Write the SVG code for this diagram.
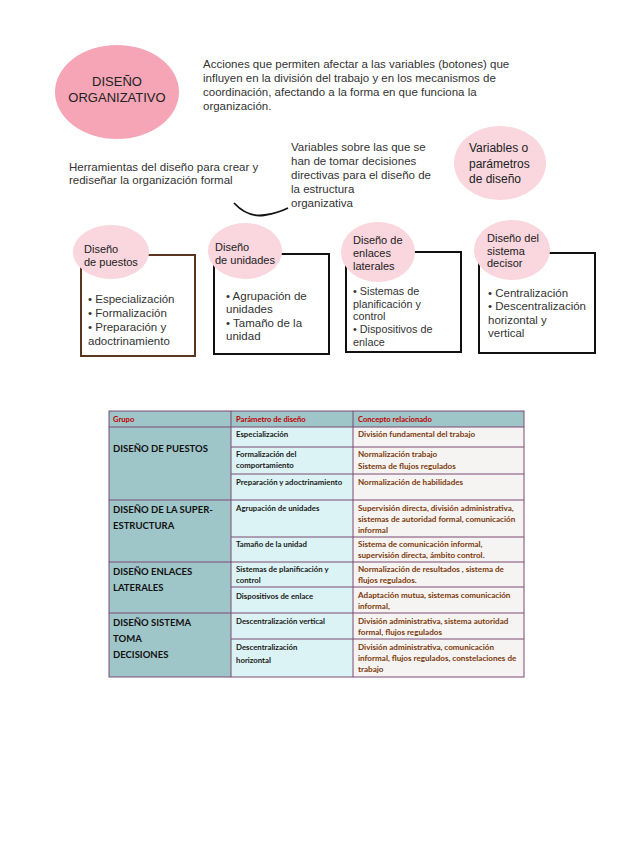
<svg xmlns="http://www.w3.org/2000/svg" width="636" height="848" viewBox="0 0 636 848">
<style>
.t{font-family:"Liberation Sans",Arial,sans-serif;font-size:11.5px;fill:#333}
.h{font-family:"Liberation Sans",Arial,sans-serif;font-size:11px;fill:#222}
.big{font-family:"Liberation Sans",Arial,sans-serif;font-size:13px;fill:#222}
.pl{fill:#FAD6DE}
.box{fill:#fff;stroke:#111;stroke-width:2}
.tb{font-family:Lato,"Liberation Sans",sans-serif;font-weight:bold;font-size:7.8px}
.c1{fill:#9EC5C8}
.c2{fill:#DBF3F4}
.c3{fill:#F6F3F3}
.g{font-family:Lato,"Liberation Sans",sans-serif;font-weight:bold;font-size:9.5px;fill:#111}
.p{fill:#1a1a1a}
.r{fill:#7B3A0A;font-size:8.1px}
.hd{fill:#C00000;font-size:7.6px}
.ln{stroke:#7C4A73;stroke-width:1;fill:none}
</style>
<rect width="636" height="848" fill="#fff"/>

<g id="diseno-organizativo">
<ellipse cx="117" cy="92" rx="62" ry="47" fill="#F5A5B6"/>
<text class="big" x="117" y="86" text-anchor="middle">DISEÑO</text>
<text class="big" x="117" y="102" text-anchor="middle">ORGANIZATIVO</text>
</g>

<g id="descripcion">
<text class="t" x="203" y="68">Acciones que permiten afectar a las variables (botones) que</text>
<text class="t" x="203" y="82">influyen en la división del trabajo y en los mecanismos de</text>
<text class="t" x="203" y="96">coordinación, afectando a la forma en que funciona la</text>
<text class="t" x="203" y="110">organización.</text>
</g>

<g id="herramientas">
<text class="t" x="69" y="171">Herramientas del diseño para crear y</text>
<text class="t" x="69" y="184">rediseñar la organización formal</text>
</g>

<g id="variables-sobre">
<text class="t" x="291" y="151">Variables sobre las que se</text>
<text class="t" x="291" y="165">han de tomar decisiones</text>
<text class="t" x="291" y="179">directivas para el diseño de</text>
<text class="t" x="291" y="193">la estructura</text>
<text class="t" x="291" y="207">organizativa</text>
</g>

<g id="connectors">
<path d="M234,203 Q248,218 265,215 Q278,213 288,208" fill="none" stroke="#111" stroke-width="1.8"/>
</g>

<g id="variables-parametros">
<ellipse cx="500" cy="163" rx="46" ry="37" class="pl"/>
<text class="big" x="469" y="152" style="font-size:12px">Variables o</text>
<text class="big" x="469" y="168" style="font-size:12px">parámetros</text>
<text class="big" x="469" y="183" style="font-size:12px">de diseño</text>
</g>

<g id="diseno-puestos">
<rect x="81" y="255" width="114" height="101" fill="#fff" stroke="#5A3620" stroke-width="2"/>
<ellipse cx="111" cy="252" rx="38" ry="27" class="pl"/>
<text class="h" x="84" y="253">Diseño</text>
<text class="h" x="84" y="266">de puestos</text>
<text class="t" x="88" y="303">• Especialización</text>
<text class="t" x="88" y="317">• Formalización</text>
<text class="t" x="88" y="331">• Preparación y</text>
<text class="t" x="88" y="345">adoctrinamiento</text>
</g>

<g id="diseno-unidades">
<rect x="214" y="254" width="115" height="100" class="box"/>
<ellipse cx="245" cy="251" rx="37" ry="28" class="pl"/>
<text class="h" x="215" y="251">Diseño</text>
<text class="h" x="215" y="264">de unidades</text>
<text class="t" x="226" y="300">• Agrupación de</text>
<text class="t" x="226" y="313">unidades</text>
<text class="t" x="226" y="327">• Tamaño de la</text>
<text class="t" x="226" y="340">unidad</text>
</g>

<g id="diseno-enlaces">
<rect x="346" y="252" width="115" height="100" class="box"/>
<ellipse cx="378" cy="252" rx="37" ry="30" class="pl"/>
<text class="h" x="353" y="244">Diseño de</text>
<text class="h" x="353" y="257">enlaces</text>
<text class="h" x="353" y="270">laterales</text>
<text class="t" x="353" y="295" style="font-size:10.8px">• Sistemas de</text>
<text class="t" x="353" y="308" style="font-size:10.8px">planificación y</text>
<text class="t" x="353" y="320" style="font-size:10.8px">control</text>
<text class="t" x="353" y="333" style="font-size:10.8px">• Dispositivos de</text>
<text class="t" x="353" y="346" style="font-size:10.8px">enlace</text>
</g>

<g id="diseno-sistema-decisor">
<rect x="479" y="253" width="116" height="100" class="box"/>
<ellipse cx="512" cy="250" rx="38" ry="30" class="pl"/>
<text class="h" x="487" y="242">Diseño del</text>
<text class="h" x="487" y="255">sistema</text>
<text class="h" x="487" y="267">decisor</text>
<text class="t" x="488" y="297">• Centralización</text>
<text class="t" x="488" y="310">• Descentralización</text>
<text class="t" x="488" y="324">horizontal y</text>
<text class="t" x="488" y="337">vertical</text>
</g>

<g id="tabla">
<rect x="109" y="411" width="122" height="16" class="c1"/>
<rect x="231" y="411" width="122" height="16" class="c1"/>
<rect x="353" y="411" width="171" height="16" class="c1"/>
<rect x="109" y="427" width="122" height="250" class="c1"/>
<rect x="231" y="427" width="122" height="250" class="c2"/>
<rect x="353" y="427" width="171" height="250" class="c3"/>
<rect x="109" y="411" width="415" height="266" class="ln"/>
<path class="ln" d="M231,411V677M353,411V677M109,427H524M231,447H524M231,474H524M109,500H524M231,537H524M109,562H524M231,587H524M109,613H524M231,639H524"/>

<text class="tb hd" x="113" y="422">Grupo</text>
<text class="tb hd" x="236" y="422">Parámetro de diseño</text>
<text class="tb hd" x="358" y="422">Concepto relacionado</text>

<text class="g" x="113" y="452">DISEÑO DE PUESTOS</text>
<text class="g" x="113" y="513">DISEÑO DE LA SUPER-</text>
<text class="g" x="113" y="529">ESTRUCTURA</text>
<text class="g" x="113" y="575">DISEÑO ENLACES</text>
<text class="g" x="113" y="591">LATERALES</text>
<text class="g" x="113" y="626">DISEÑO SISTEMA</text>
<text class="g" x="113" y="642">TOMA</text>
<text class="g" x="113" y="658">DECISIONES</text>

<text class="tb p" x="236" y="437">Especialización</text>
<text class="tb p" x="236" y="457">Formalización del</text>
<text class="tb p" x="236" y="468">comportamiento</text>
<text class="tb p" x="236" y="485">Preparación y adoctrinamiento</text>
<text class="tb p" x="236" y="511">Agrupación de unidades</text>
<text class="tb p" x="236" y="547">Tamaño de la unidad</text>
<text class="tb p" x="236" y="572">Sistemas de planificación y</text>
<text class="tb p" x="236" y="583">control</text>
<text class="tb p" x="236" y="599">Dispositivos de enlace</text>
<text class="tb p" x="236" y="624">Descentralización vertical</text>
<text class="tb p" x="236" y="650">Descentralización</text>
<text class="tb p" x="236" y="663">horizontal</text>

<text class="tb r" x="358" y="437">División fundamental del trabajo</text>
<text class="tb r" x="358" y="457">Normalización trabajo</text>
<text class="tb r" x="358" y="469">Sistema de flujos regulados</text>
<text class="tb r" x="358" y="485">Normalización de habilidades</text>
<text class="tb r" x="358" y="511">Supervisión directa, división administrativa,</text>
<text class="tb r" x="358" y="522">sistemas de autoridad formal, comunicación</text>
<text class="tb r" x="358" y="533">informal</text>
<text class="tb r" x="358" y="547">Sistema de comunicación informal,</text>
<text class="tb r" x="358" y="558">supervisión directa, ámbito control.</text>
<text class="tb r" x="358" y="572">Normalización de resultados , sistema de</text>
<text class="tb r" x="358" y="583">flujos regulados.</text>
<text class="tb r" x="358" y="598">Adaptación mutua, sistemas  comunicación</text>
<text class="tb r" x="358" y="609">informal,</text>
<text class="tb r" x="358" y="624">División administrativa, sistema autoridad</text>
<text class="tb r" x="358" y="635">formal, flujos regulados</text>
<text class="tb r" x="358" y="650">División administrativa, comunicación</text>
<text class="tb r" x="358" y="661">informal, flujos regulados, constelaciones de</text>
<text class="tb r" x="358" y="672">trabajo</text>
</g>
</svg>
